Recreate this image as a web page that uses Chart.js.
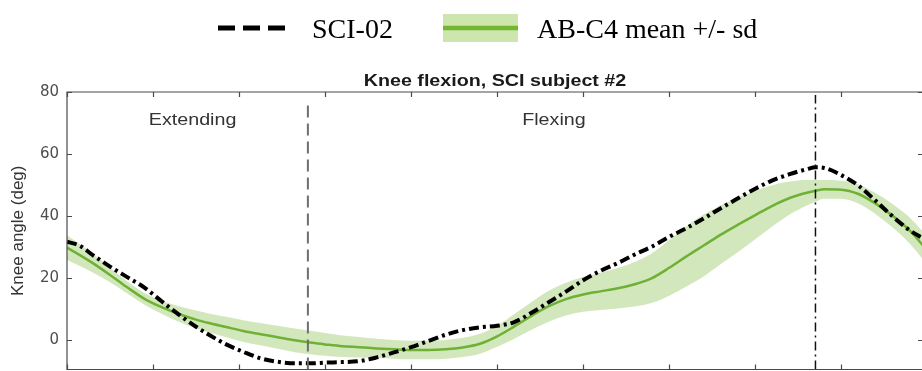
<!DOCTYPE html>
<html>
<head>
<meta charset="utf-8">
<script src="https://cdn.jsdelivr.net/npm/chart.js@4/dist/chart.umd.min.js"></script>
<style>
  html, body { margin: 0; padding: 0; background: #fff; overflow: hidden; width: 922px; height: 371px; }
  #wrap { position: absolute; left: 0; top: 0; width: 930px; height: 371px; }
</style>
</head>
<body>
<div id="wrap"><canvas id="knee" width="930" height="371"></canvas></div>
<script>
// Percent of the movement cycle at which each angle was sampled
const cyclePct = [0, 1.5, 3, 5, 7, 9, 11, 13, 15, 16.5, 18.5, 20.5, 22.5, 24.5, 26.5, 28.5, 30, 32, 34, 36,
  38, 40, 42, 44, 46, 48, 50, 52, 54, 56, 58, 60, 62, 64, 66, 68, 70, 72, 74, 76, 78, 80, 82, 84, 86, 87,
  88, 90, 92, 94, 96, 98, 99.5];

// Knee angle of SCI subject #2 (deg)
const sci02 = [31.7, 30.4, 27.4, 23.7, 20.3, 16.9, 12.5, 8.2, 4.3, 1.7, -1.4, -3.8, -5.9, -7.0, -7.5, -7.5,
  -7.3, -7.1, -6.8, -5.6, -4.0, -2.3, -0.3, 1.7, 3.2, 4.1, 4.6, 5.8, 8.8, 12.2, 15.6, 19.3, 22.3, 24.8,
  27.6, 30.2, 33.3, 36.1, 39.2, 42.5, 45.7, 48.8, 51.5, 53.5, 55.1, 55.7, 55.5, 53.2, 49.8, 44.9, 39.8,
  35.3, 32.8];

// Able-bodied group AB-C4: mean knee angle and standard deviation (deg)
const abMean = [29.8, 27.4, 24.8, 21.0, 17.0, 13.3, 10.6, 8.4, 6.6, 5.5, 4.2, 2.9, 1.9, 0.9, -0.1, -0.9,
  -1.4, -2.0, -2.3, -2.7, -3.0, -3.2, -3.2, -3.0, -2.4, -1.2, 1.2, 4.4, 7.8, 10.9, 13.2, 14.7, 15.7, 16.7,
  18.0, 20.0, 23.3, 27.0, 30.5, 34.0, 37.2, 40.3, 43.3, 45.8, 47.5, 48.1, 48.6, 48.5, 47.1, 44.0, 40.0,
  35.2, 30.5];
const abSd = [4.0, 3.5, 3.0, 2.4, 2.0, 1.9, 2.1, 2.5, 2.9, 3.1, 3.3, 3.5, 3.6, 3.7, 3.8, 3.8, 3.7, 3.5,
  3.3, 3.1, 3.0, 3.0, 3.0, 3.0, 3.1, 3.2, 3.4, 4.0, 4.5, 5.0, 5.3, 5.6, 6.0, 6.5, 7.2, 8.0, 9.0, 9.7,
  10.0, 9.5, 8.8, 7.8, 6.6, 5.3, 4.1, 3.5, 3.0, 2.9, 3.1, 3.4, 3.8, 4.2, 4.5];

// Phase boundaries (percent of cycle) and phase names
const phaseBounds = [28, 87];
const phaseNames = ['Extending', 'Flexing'];

// Axis ticks
const yTicks = [0, 20, 40, 60, 80];
const xTicks = [0, 10, 20, 30, 40, 50, 60, 70, 80, 90];

const Y_MIN = -9.5, Y_MAX = 80, X_MIN = 0, X_MAX = 99.5;

const pts = (ys) => cyclePct.map((x, i) => ({ x, y: ys[i] }));
const bandUpper = abMean.map((m, i) => m + abSd[i]);
const bandLower = abMean.map((m, i) => m - abSd[i]);

const stretchText = (ctx, text, x, y, font, color, sx, align) => {
  ctx.save();
  ctx.font = font;
  ctx.fillStyle = color;
  ctx.textAlign = align || 'center';
  ctx.textBaseline = 'alphabetic';
  ctx.translate(x, y);
  ctx.scale(sx, 1);
  ctx.fillText(text, 0, 0);
  ctx.restore();
};

// Axes box with inward ticks, title, phase names and legend
const decorations = {
  id: 'decorations',
  afterDraw(chart) {
    const { ctx, chartArea: a, scales: { x, y } } = chart;
    ctx.save();
    ctx.strokeStyle = '#4a4a4a';
    ctx.lineWidth = 1.2;
    ctx.beginPath();
    ctx.rect(a.left, a.top, a.right - a.left, a.bottom - a.top);
    ctx.stroke();
    const tl = 5;
    ctx.beginPath();
    xTicks.forEach(v => {
      const px = Math.round(x.getPixelForValue(v)) + 0.5;
      ctx.moveTo(px, a.top); ctx.lineTo(px, a.top + tl);
      ctx.moveTo(px, a.bottom); ctx.lineTo(px, a.bottom - tl);
    });
    yTicks.forEach(v => {
      const py = Math.round(y.getPixelForValue(v)) + 0.5;
      ctx.moveTo(a.left, py); ctx.lineTo(a.left + tl, py);
      ctx.moveTo(a.right, py); ctx.lineTo(a.right - tl, py);
    });
    ctx.stroke();
    ctx.restore();

    // Title
    stretchText(ctx, 'Knee flexion, SCI subject #2', (a.left + a.right) / 2, 86,
      'bold 16px "Liberation Sans", Arial, sans-serif', '#1a1a1a', 1.23);

    // Phase names
    const labelX = [14.6, 56.6];
    phaseNames.forEach((name, i) => {
      stretchText(ctx, name, x.getPixelForValue(labelX[i]), y.getPixelForValue(69.4),
        '16px "Liberation Sans", Arial, sans-serif', '#333', 1.23);
    });

    // Legend
    ctx.save();
    ctx.strokeStyle = '#000';
    ctx.lineWidth = 5;
    ctx.setLineDash([17, 8]);
    ctx.beginPath(); ctx.moveTo(218, 28); ctx.lineTo(286, 28); ctx.stroke();
    ctx.setLineDash([]);
    ctx.fillStyle = '#cde6ad';
    ctx.fillRect(443, 14, 75, 28);
    ctx.strokeStyle = '#74b62f';
    ctx.lineWidth = 4.5;
    ctx.beginPath(); ctx.moveTo(443, 28); ctx.lineTo(518, 28); ctx.stroke();
    ctx.fillStyle = '#000';
    ctx.font = '28px "Liberation Serif", "Times New Roman", serif';
    ctx.textBaseline = 'alphabetic';
    ctx.textAlign = 'left';
    ctx.fillText('SCI-02', 312, 38);
    ctx.fillText('AB-C4 mean +/- sd', 537, 38);
    ctx.restore();
  }
};

new Chart(document.getElementById('knee'), {
  type: 'line',
  data: {
    datasets: [
      {
        label: 'Phase change',
        data: [{ x: phaseBounds[0], y: Y_MIN }, { x: phaseBounds[0], y: 77.2 }],
        borderColor: '#6e6e6e', borderWidth: 2, borderDash: [12, 6],
        pointRadius: 0, fill: false
      },
      {
        label: 'Peak',
        data: [{ x: phaseBounds[1], y: Y_MIN }, { x: phaseBounds[1], y: 79 }],
        borderColor: '#111', borderWidth: 1.5, borderDash: [9, 4, 2, 4],
        pointRadius: 0, fill: false
      },
      {
        label: 'SCI-02',
        data: pts(sci02),
        borderColor: '#000', borderWidth: 4, borderDash: [10, 4, 3, 4],
        pointRadius: 0, fill: false, cubicInterpolationMode: 'monotone'
      },
      {
        label: 'AB-C4 mean',
        data: pts(abMean),
        borderColor: '#6eb135', borderWidth: 2.5,
        pointRadius: 0, fill: false, cubicInterpolationMode: 'monotone'
      },
      {
        label: 'AB-C4 +sd',
        data: pts(bandUpper),
        borderWidth: 0, borderColor: 'rgba(0,0,0,0)',
        backgroundColor: 'rgba(130,190,70,0.36)',
        pointRadius: 0, fill: '+1', cubicInterpolationMode: 'monotone'
      },
      {
        label: 'AB-C4 -sd',
        data: pts(bandLower),
        borderWidth: 0, borderColor: 'rgba(0,0,0,0)',
        pointRadius: 0, fill: false, cubicInterpolationMode: 'monotone'
      }
    ]
  },
  options: {
    responsive: false,
    animation: false,
    devicePixelRatio: 1,
    layout: { padding: { top: 92, right: 7, bottom: 1.5, left: 0 } },
    plugins: { legend: { display: false }, title: { display: false }, tooltip: { enabled: false } },
    scales: {
      x: {
        type: 'linear', min: X_MIN, max: X_MAX,
        grid: { display: false, drawTicks: false },
        border: { display: false },
        ticks: { display: false },
        afterBuildTicks: (s) => { s.ticks = xTicks.map(v => ({ value: v })); },
        afterFit: (s) => { s.height = 0; s.paddingLeft = 0; s.paddingRight = 0; s.paddingTop = 0; s.paddingBottom = 0; }
      },
      y: {
        type: 'linear', min: Y_MIN, max: Y_MAX,
        grid: { display: false, drawTicks: false },
        border: { display: false },
        ticks: {
          color: '#4d4d4d', padding: 8,
          font: { family: '"DejaVu Sans", sans-serif', size: 15 }
        },
        title: {
          display: true, text: 'Knee angle (deg)', color: '#333',
          font: { family: '"Liberation Sans", Arial, sans-serif', size: 17 },
          padding: { top: 8, bottom: 0 }
        },
        afterBuildTicks: (s) => { s.ticks = yTicks.map(v => ({ value: v })); },
        afterFit: (s) => { s.width = 67; s.paddingTop = 0; s.paddingBottom = 0; s.paddingLeft = 0; s.paddingRight = 0; }
      }
    }
  },
  plugins: [decorations]
});
</script>
</body>
</html>
